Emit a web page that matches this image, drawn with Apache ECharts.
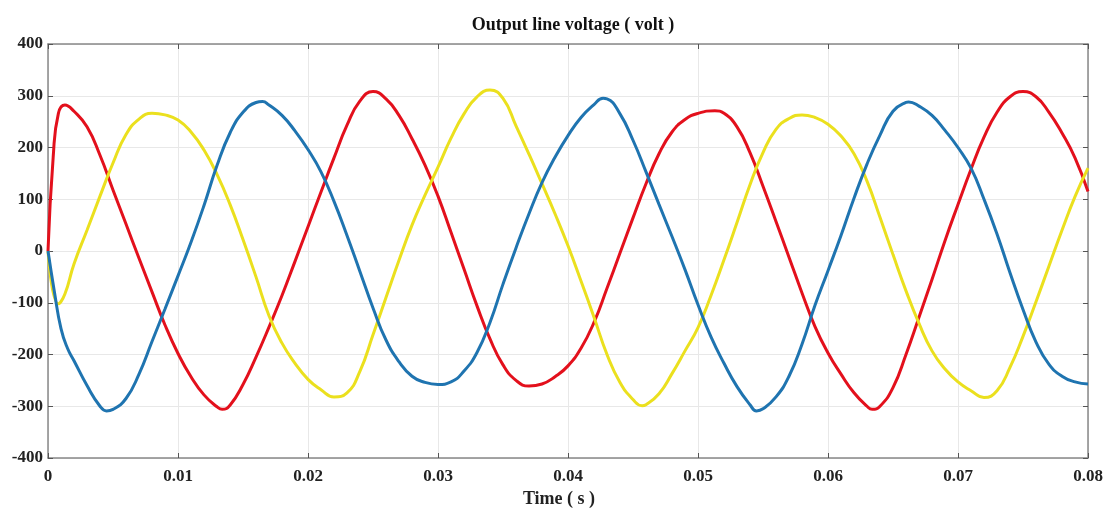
<!DOCTYPE html>
<html>
<head>
<meta charset="utf-8">
<title>Output line voltage</title>
<script src="https://cdn.jsdelivr.net/npm/echarts@6/dist/echarts.min.js"></script>
<style>
  html, body { margin: 0; padding: 0; background: #fff; }
  #main { width: 1110px; height: 515px; }
</style>
</head>
<body>
<div id="main"></div>
<script>
// values: [time (s), volt]
var redPhase = [
  [0, 0], [0.0004, 182], [0.0008, 266], [0.0013, 282], [0.002, 270], [0.003, 240],
  [0.004, 185], [0.005, 118], [0.006, 52], [0.007, -14], [0.008, -79], [0.009, -143],
  [0.01, -198], [0.011, -243], [0.012, -278], [0.013, -301], [0.0134, -306], [0.014, -298],
  [0.015, -258], [0.016, -205], [0.017, -147], [0.018, -86], [0.019, -20], [0.02, 47],
  [0.021, 114], [0.022, 180], [0.023, 243], [0.024, 290], [0.025, 308], [0.026, 294],
  [0.027, 262], [0.028, 217], [0.029, 166], [0.03, 106], [0.031, 36], [0.032, -35],
  [0.033, -106], [0.034, -170], [0.035, -220], [0.036, -250], [0.037, -261], [0.038, -257],
  [0.039, -243], [0.04, -222], [0.041, -188], [0.042, -138], [0.043, -72], [0.044, -4],
  [0.045, 64], [0.046, 130], [0.047, 188], [0.048, 230], [0.049, 254], [0.05, 266],
  [0.0513, 271], [0.052, 266], [0.053, 240], [0.054, 190], [0.055, 125], [0.056, 57],
  [0.057, -12], [0.058, -81], [0.059, -146], [0.06, -197], [0.061, -238], [0.062, -274],
  [0.063, -300], [0.0634, -306], [0.064, -300], [0.065, -264], [0.066, -200], [0.067, -128],
  [0.068, -55], [0.069, 20], [0.07, 90], [0.071, 158], [0.072, 220], [0.073, 268],
  [0.074, 298], [0.075, 308], [0.076, 298], [0.077, 268], [0.078, 228], [0.079, 180],
  [0.08, 115]
];
var yellowPhase = [
  [0, 0], [0.0008, -102], [0.0013, -83], [0.002, -25], [0.003, 40], [0.004, 106],
  [0.005, 170], [0.006, 225], [0.007, 255], [0.008, 266], [0.009, 263], [0.01, 253],
  [0.011, 230], [0.012, 195], [0.013, 148], [0.014, 90], [0.015, 22], [0.016, -50],
  [0.017, -125], [0.018, -178], [0.019, -217], [0.02, -248], [0.021, -268], [0.022, -282],
  [0.023, -274], [0.024, -232], [0.025, -162], [0.026, -90], [0.027, -18], [0.028, 50],
  [0.029, 108], [0.03, 162], [0.031, 218], [0.032, 265], [0.033, 298], [0.034, 311],
  [0.035, 295], [0.036, 242], [0.037, 187], [0.038, 130], [0.039, 72], [0.04, 10],
  [0.041, -58], [0.042, -128], [0.043, -200], [0.044, -254], [0.045, -287], [0.0457, -299],
  [0.046, -297], [0.047, -276], [0.048, -237], [0.049, -193], [0.05, -148], [0.051, -86],
  [0.052, -17], [0.053, 55], [0.054, 128], [0.055, 190], [0.056, 235], [0.057, 256],
  [0.058, 263], [0.059, 258], [0.06, 245], [0.061, 222], [0.062, 188], [0.063, 135],
  [0.064, 65], [0.065, -7], [0.066, -77], [0.067, -140], [0.068, -193], [0.069, -228],
  [0.07, -253], [0.071, -270], [0.072, -283], [0.073, -270], [0.074, -225], [0.075, -165],
  [0.076, -98], [0.077, -29], [0.078, 40], [0.079, 105], [0.08, 160]
];
var bluePhase = [
  [0, 0], [0.0005, -80], [0.001, -150], [0.0015, -188], [0.002, -212], [0.003, -260],
  [0.004, -300], [0.0045, -309], [0.005, -306], [0.006, -285], [0.007, -238], [0.008, -175],
  [0.009, -112], [0.01, -48], [0.011, 17], [0.012, 88], [0.013, 165], [0.014, 228],
  [0.015, 268], [0.016, 287], [0.0165, 289], [0.017, 282], [0.018, 262], [0.019, 232],
  [0.02, 196], [0.021, 153], [0.022, 96], [0.023, 30], [0.024, -40], [0.025, -110],
  [0.026, -172], [0.027, -214], [0.028, -242], [0.029, -254], [0.03, -258], [0.031, -253],
  [0.032, -232], [0.033, -196], [0.034, -138], [0.035, -64], [0.036, 6], [0.037, 72],
  [0.038, 132], [0.039, 181], [0.04, 223], [0.041, 258], [0.042, 283], [0.0427, 295],
  [0.043, 294], [0.044, 265], [0.045, 214], [0.046, 153], [0.047, 90], [0.048, 28],
  [0.049, -36], [0.05, -104], [0.051, -166], [0.052, -217], [0.053, -262], [0.054, -297],
  [0.0545, -309], [0.055, -305], [0.056, -282], [0.057, -242], [0.058, -180], [0.059, -105],
  [0.06, -38], [0.061, 30], [0.062, 102], [0.063, 168], [0.064, 224], [0.065, 270],
  [0.066, 287], [0.0662, 288], [0.067, 280], [0.068, 262], [0.069, 233], [0.07, 200],
  [0.071, 160], [0.072, 100], [0.073, 33], [0.074, -42], [0.075, -113], [0.076, -176],
  [0.077, -219], [0.078, -242], [0.079, -253], [0.08, -257]
];

var chartTitle = 'Output line voltage ( volt )';
var xName = 'Time ( s )';

var chart = echarts.init(document.getElementById('main'), null, { renderer: 'canvas' });

var serif = '"Liberation Serif", "DejaVu Serif", serif';
var labelStyle = { fontFamily: serif, fontWeight: 'bold', fontSize: 17, color: '#222' };

function phase(data, color) {
  return {
    type: 'line',
    data: data,
    smooth: 0.5,
    showSymbol: false,
    lineStyle: { color: color, width: 3 },
    itemStyle: { color: color }
  };
}

var option = {
  backgroundColor: '#ffffff',
  animation: false,
  title: {
    text: chartTitle,
    left: 568,
    textAlign: 'center',
    top: 11,
    textStyle: { fontFamily: serif, fontWeight: 'bold', fontSize: 18, color: '#111' }
  },
  grid: { left: 48, right: 22, top: 44, bottom: 57 },
  xAxis: [{
    type: 'value',
    min: 0, max: 0.08, interval: 0.01,
    name: xName,
    nameLocation: 'middle',
    nameGap: 32,
    nameTextStyle: Object.assign({ padding: [0, 18, 0, 0] }, labelStyle, { fontSize: 18 }),
    axisLine: { onZero: false, lineStyle: { color: '#888', width: 1.5 } },
    axisTick: { inside: true, length: 5, lineStyle: { color: '#555' } },
    axisLabel: Object.assign({ margin: 10, formatter: function (v) { return String(+v.toFixed(2)); } }, labelStyle),
    splitLine: { lineStyle: { color: '#e8e8e8' } }
  }, {
    type: 'value', position: 'top',
    min: 0, max: 0.08, interval: 0.01,
    axisLine: { onZero: false, lineStyle: { color: '#888', width: 1.5 } },
    axisTick: { inside: true, length: 5, lineStyle: { color: '#555' } },
    axisLabel: { show: false },
    splitLine: { show: false }
  }],
  yAxis: [{
    type: 'value',
    min: -400, max: 400, interval: 100,
    axisLine: { show: true, onZero: false, lineStyle: { color: '#888', width: 1.5 } },
    axisTick: { show: true, inside: true, length: 5, lineStyle: { color: '#555' } },
    axisLabel: Object.assign({ margin: 5 }, labelStyle),
    splitLine: { lineStyle: { color: '#e8e8e8' } }
  }, {
    type: 'value', position: 'right',
    min: -400, max: 400, interval: 100,
    axisLine: { show: true, onZero: false, lineStyle: { color: '#888', width: 1.5 } },
    axisTick: { show: true, inside: true, length: 5, lineStyle: { color: '#555' } },
    axisLabel: { show: false },
    splitLine: { show: false }
  }],
  series: [
    phase(redPhase, '#e3101c'),
    phase(yellowPhase, '#ebe01e'),
    phase(bluePhase, '#1f74b0')
  ]
};

chart.setOption(option);
</script>
</body>
</html>
